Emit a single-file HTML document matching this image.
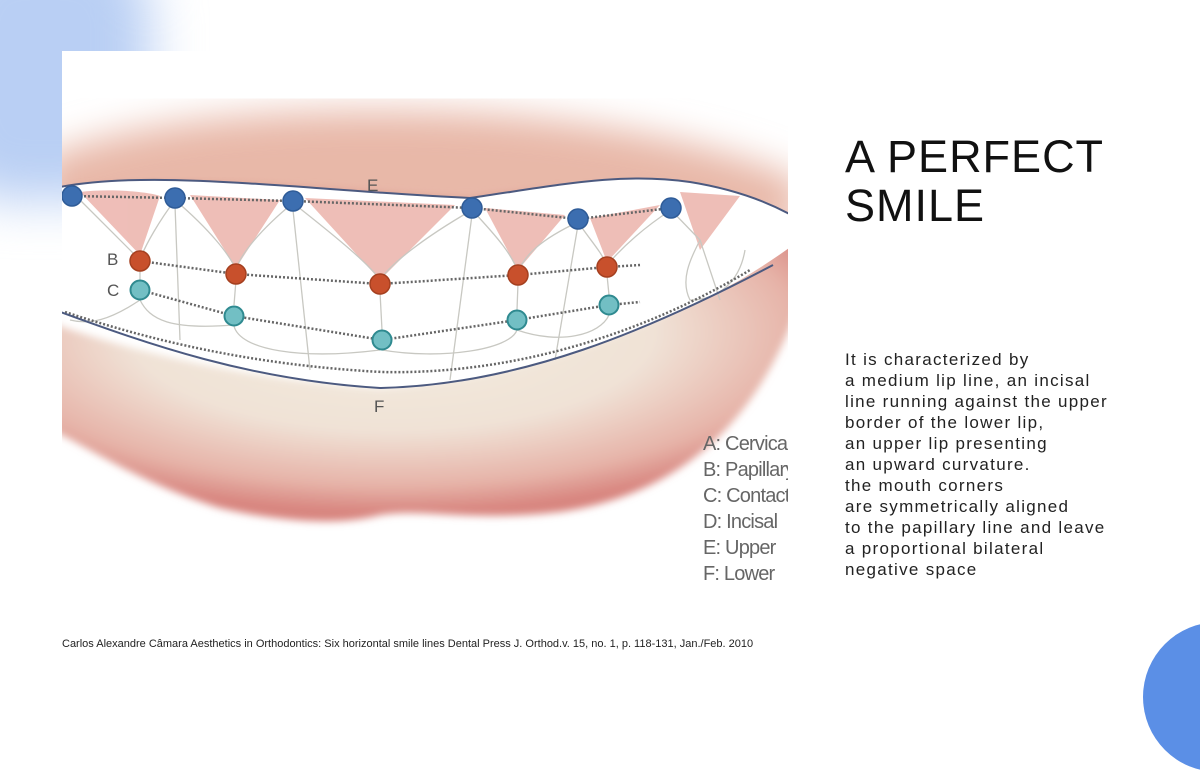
<!DOCTYPE html>
<html><head><meta charset="utf-8"><style>
html,body{margin:0;padding:0;}
body{width:1200px;height:675px;position:relative;overflow:hidden;background:#fff;font-family:"Liberation Sans",sans-serif;}
.blob{position:absolute;left:-60px;top:-60px;width:210px;height:260px;background:#b9cff4;filter:blur(25px);border-radius:30%;}
.circ{position:absolute;left:1143px;top:622px;width:150px;height:150px;border-radius:50%;background:#5b8fe6;}
h1{position:absolute;left:845px;top:132px;margin:0;font-weight:400;font-size:45px;line-height:49px;letter-spacing:1px;color:#111;}
.body{position:absolute;left:845px;top:349px;font-size:17px;line-height:21px;color:#222;letter-spacing:1.3px;}
.foot{position:absolute;left:62px;top:638px;font-size:11px;color:#222;}
svg{position:absolute;left:0;top:0;}
</style></head><body>
<div class="blob"></div>
<svg width="1200" height="675" viewBox="0 0 1200 675">
<defs>
<clipPath id="c"><rect x="62" y="51" width="726" height="557"/></clipPath>
<filter id="b1"><feGaussianBlur stdDeviation="18"/></filter>
<filter id="b2"><feGaussianBlur stdDeviation="4"/></filter>
<radialGradient id="lg" cx="0.47" cy="0.35" r="0.62"><stop offset="0" stop-color="#f3ecdf"/><stop offset="0.55" stop-color="#f0e2d6"/><stop offset="0.85" stop-color="#e6b3a8"/><stop offset="1" stop-color="#d8857f"/></radialGradient>
</defs>
<rect x="62" y="51" width="726" height="557" fill="#fff"/>
<g clip-path="url(#c)">
<path d="M40,160 C150,110 350,105 500,115 C620,125 720,145 800,180 L800,230 L40,230 Z" fill="#e8b8a8" filter="url(#b1)"/>
<path d="M40,195 C150,170 300,188 470,198 C600,178 700,188 800,220 L800,240 L40,240Z" fill="#dfa394" filter="url(#b2)"/>
<path d="M30,315 C120,350 250,380 380,388 C550,375 700,310 800,230 L800,300 C760,420 680,495 560,512 C470,522 420,508 380,515 C340,526 280,522 220,508 C130,480 80,440 30,420Z" fill="url(#lg)" filter="url(#b2)"/>
<path d="M55,188 C150,168 300,190 470,198 C560,185 620,172 690,182 C740,190 775,205 800,220 L800,240 C780,255 760,268 740,280 C650,330 520,385 380,388 C250,380 150,345 55,310Z" fill="#fff"/>
<g fill="#e8a39a" opacity="0.7">
<path d="M80,192 C110,188 150,192 160,196 L140,255Z"/>
<path d="M190,195 L280,200 L236,268Z"/>
<path d="M305,198 L455,205 L380,280Z"/>
<path d="M485,208 L565,215 L518,270Z"/>
<path d="M590,218 L660,205 L607,262Z"/>
<path d="M680,192 L740,196 L700,250Z"/>
</g>
<g fill="none" stroke="#c8c8c2" stroke-width="1.3">
<path d="M80,200 C110,230 130,250 140,260"/><path d="M175,200 C160,220 145,245 140,260"/>
<path d="M175,200 C210,230 230,255 236,270"/><path d="M293,203 C260,230 240,255 236,270"/>
<path d="M293,203 C340,240 370,265 380,280"/><path d="M472,210 C420,240 390,265 380,280"/>
<path d="M472,210 C500,240 512,255 518,272"/><path d="M578,222 C540,240 525,255 518,272"/>
<path d="M578,222 C590,240 600,250 607,265"/><path d="M671,210 C640,230 620,250 607,265"/>
<path d="M671,210 L700,240 C690,260 680,280 690,300 C720,300 740,280 745,250"/>
<path d="M140,300 C110,320 90,325 70,320"/><path d="M140,300 C150,320 170,330 234,325"/>
<path d="M234,326 C240,350 300,360 380,350"/><path d="M517,330 C510,350 440,360 382,350"/>
<path d="M609,315 C600,335 560,345 517,330"/><path d="M700,240 L720,300"/>
<path d="M236,280 L234,305 M380,292 L382,330 M518,283 L517,310 M607,275 L609,295 M140,270 L140,280"/>
<path d="M175,205 L180,340 M293,210 L310,370 M472,215 L450,380 M578,225 L555,360"/>
</g>
<g fill="none" stroke="#666" stroke-width="2.5" stroke-dasharray="2 2">
<path d="M72,196 L175,198 L293,201 L472,208 L578,219 L671,208"/>
<path d="M140,261 L236,274 L380,284 L518,275 L607,267 L640,265"/>
<path d="M140,290 L234,316 L382,340 L517,320 L609,305 L640,302"/>
<path d="M65,312 C150,340 250,365 382,372 C520,375 650,330 750,270"/>
</g>
<path d="M55,188 C150,168 300,190 470,198 C560,185 620,172 690,182 C740,190 775,205 800,220" fill="none" stroke="#4c5a80" stroke-width="2"/>
<path d="M55,310 C150,345 250,380 380,388 C520,385 650,330 773,265" fill="none" stroke="#4c5a80" stroke-width="2"/>
<g fill="#3c6eb0" stroke="#2f5c98" stroke-width="1.5">
<circle cx="72" cy="196" r="10"/><circle cx="175" cy="198" r="10"/><circle cx="293" cy="201" r="10"/><circle cx="472" cy="208" r="10"/><circle cx="578" cy="219" r="10"/><circle cx="671" cy="208" r="10"/>
</g>
<g fill="#c8502c" stroke="#a54020" stroke-width="1.5">
<circle cx="140" cy="261" r="10"/><circle cx="236" cy="274" r="10"/><circle cx="380" cy="284" r="10"/><circle cx="518" cy="275" r="10"/><circle cx="607" cy="267" r="10"/>
</g>
<g fill="#72bfc4" stroke="#2f8a90" stroke-width="2">
<circle cx="140" cy="290" r="9.5"/><circle cx="234" cy="316" r="9.5"/><circle cx="382" cy="340" r="9.5"/><circle cx="517" cy="320" r="9.5"/><circle cx="609" cy="305" r="9.5"/>
</g>
<g font-family="Liberation Sans,sans-serif" font-size="17" fill="#555">
<text x="367" y="191">E</text><text x="107" y="265">B</text><text x="107" y="296">C</text><text x="374" y="412">F</text>
</g>
<g font-family="Liberation Sans,sans-serif" font-size="20" fill="#666" letter-spacing="-0.8">
<text x="703" y="450">A: Cervical</text><text x="703" y="476">B: Papillary</text><text x="703" y="502">C: Contact</text><text x="703" y="528">D: Incisal</text><text x="703" y="554">E: Upper</text><text x="703" y="580">F: Lower</text>
</g>
</g>
</svg>
<h1>A PERFECT<br>SMILE</h1>
<div class="body">It is characterized by<br>a medium lip line, an incisal<br>line running against the upper<br>border of the lower lip,<br>an upper lip presenting<br>an upward curvature.<br>the mouth corners<br>are symmetrically aligned<br>to the papillary line and leave<br>a proportional bilateral<br>negative space</div>
<div class="foot">Carlos Alexandre Câmara Aesthetics in Orthodontics: Six horizontal smile lines Dental Press J. Orthod.v. 15, no. 1, p. 118-131, Jan./Feb. 2010</div>
<div class="circ"></div>
</body></html>
